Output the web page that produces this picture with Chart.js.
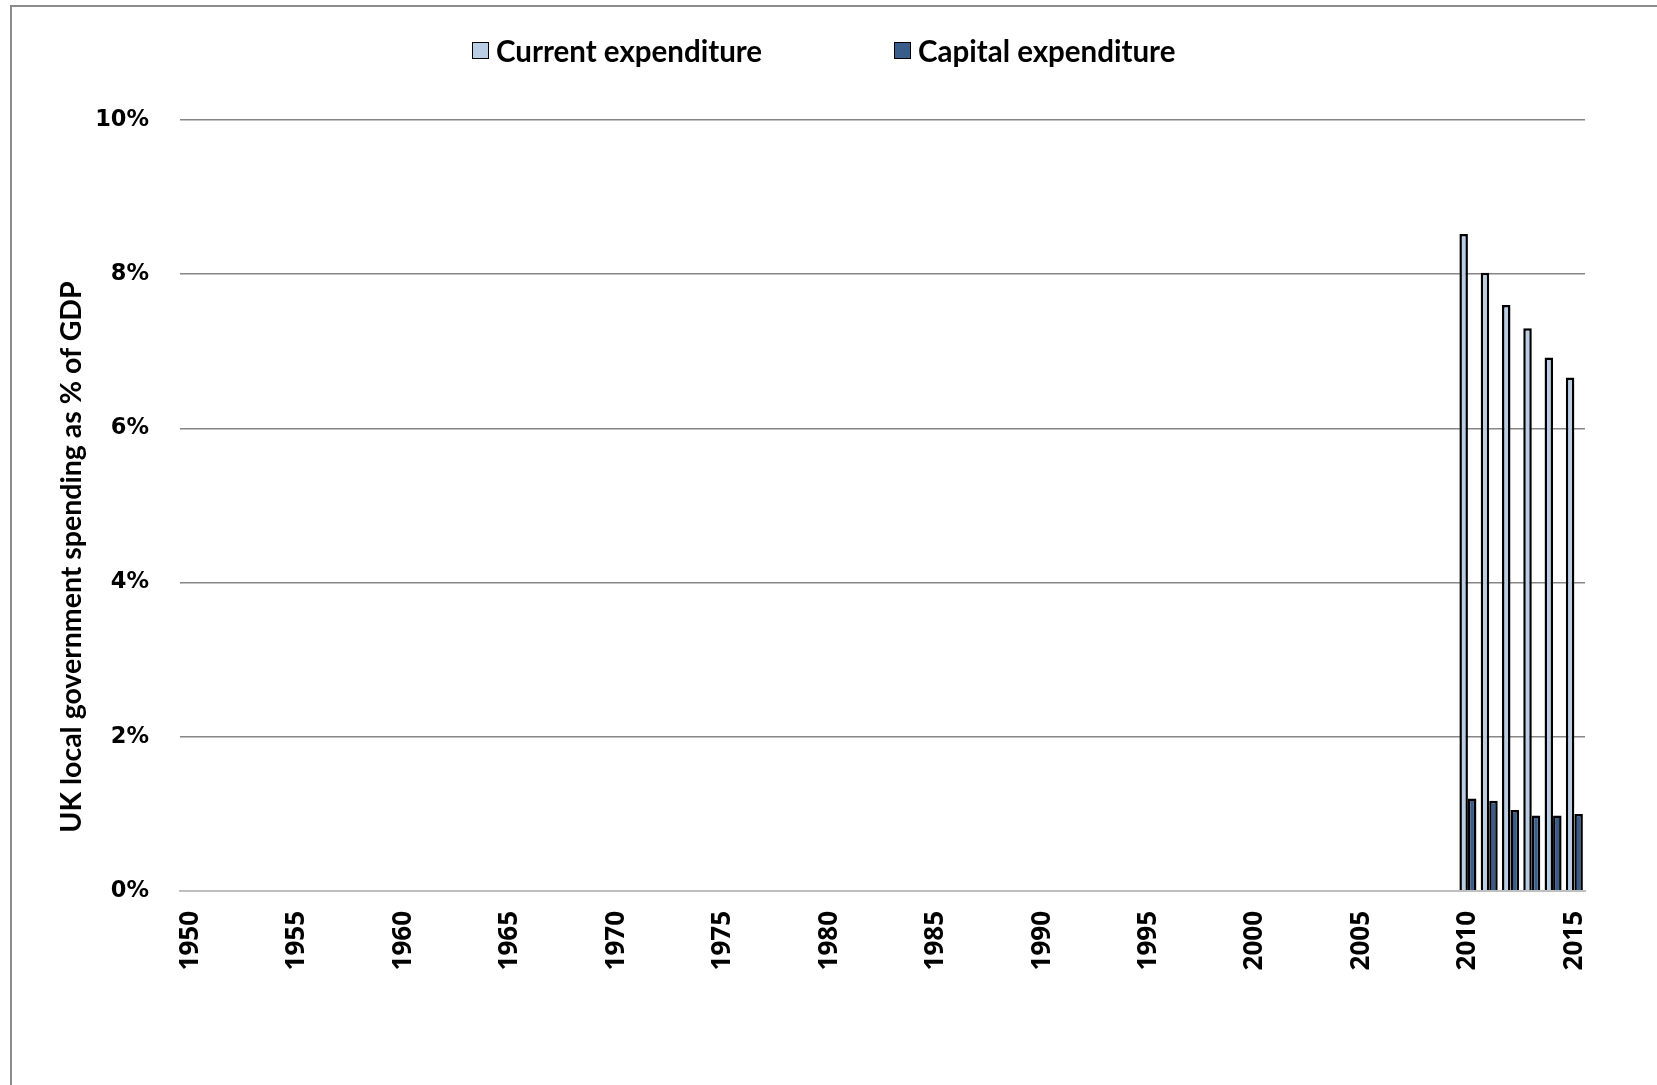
<!DOCTYPE html>
<html>
<head>
<meta charset="utf-8">
<script src="https://cdn.jsdelivr.net/npm/chart.js@4"></script>
<style>
  html, body { margin: 0; padding: 0; background: #fff; }
  #wrap { position: relative; width: 1657px; height: 1085px; overflow: hidden; }
  #frame { position: absolute; left: 10px; top: 5px; width: 1700px; height: 1200px;
           border-top: 2px solid #8c8c8c; border-left: 2px solid #8c8c8c; }
  #legend { position: absolute; top: 31px; left: 0; width: 1657px; height: 38px;
            font-family: 'Lato', sans-serif; font-weight: bold; font-size: 29.5px; color: #000; }
  .item { position: absolute; top: 0; display: flex; align-items: center; height: 38px; }
  .box { width: 15px; height: 15px; border: 1.5px solid #000; margin-right: 7px; }
  #ytitle { position: absolute; left: -230px; top: 540px; width: 600px; height: 34px; line-height: 34px;
            text-align: center; transform: rotate(-90deg); transform-origin: 300px 17px;
            font-family: 'Lato', sans-serif; font-weight: bold; font-size: 28.5px; color: #000; white-space: nowrap; }
  canvas { position: absolute; left: 0; top: 0; }
</style>
</head>
<body>
<div id="wrap">
  <div id="frame"></div>
  <canvas id="myChart" width="1657" height="1085"></canvas>
  <div id="legend">
    <div class="item" style="left:472px"><span class="box" style="background:#b9cde5"></span>Current expenditure</div>
    <div class="item" style="left:894px"><span class="box" style="background:#385d8a"></span>Capital expenditure</div>
  </div>
  <div id="ytitle">UK local government spending as % of GDP</div>
</div>
<script>
// categories (years on the x axis)
var years = [1950,1951,1952,1953,1954,1955,1956,1957,1958,1959,
  1960,1961,1962,1963,1964,1965,1966,1967,1968,1969,
  1970,1971,1972,1973,1974,1975,1976,1977,1978,1979,
  1980,1981,1982,1983,1984,1985,1986,1987,1988,1989,
  1990,1991,1992,1993,1994,1995,1996,1997,1998,1999,
  2000,2001,2002,2003,2004,2005,2006,2007,2008,2009,
  2010,2011,2012,2013,2014,2015];

// years that have data, and the values (% of GDP)
var dataYears = [2010, 2011, 2012, 2013, 2014, 2015];
var currentExp = [8.52, 8.02, 7.60, 7.30, 6.92, 6.66];
var capitalExp = [1.20, 1.17, 1.05, 0.98, 0.98, 1.00];

var yTicks = [0, 2, 4, 6, 8, 10];

// spread values over all categories, empty where no data
const fillSeries = (vals) => years.map(y => {
  var i = dataYears.indexOf(y)
  return i === -1 ? null : vals[i]
})

var canvas = document.getElementById('myChart');

var myChart = new Chart(canvas, {
  type: 'bar',
  data: {
    labels: years,
    datasets: [{
      label: 'Current expenditure',
      data: fillSeries(currentExp),
      backgroundColor: '#b9cde5',
      borderColor: '#000',
      borderWidth: 2.5
    }, {
      label: 'Capital expenditure',
      data: fillSeries(capitalExp),
      backgroundColor: '#385d8a',
      borderColor: '#000',
      borderWidth: 2.5
    }]
  },
  options: {
    responsive: false,
    animation: false,
    layout: { padding: { left: 10, top: 120, right: 72, bottom: 0 } },
    plugins: {
      legend: { display: false },
      tooltip: { enabled: false }
    },
    datasets: {
      bar: { categoryPercentage: 0.8, barPercentage: 1.0 }
    },
    scales: {
      x: {
        grid: { display: false, drawTicks: false },
        border: { display: true, color: '#bfbfbf', width: 2 },
        afterFit: s => { s.height = 194 },
        ticks: {
          autoSkip: false,
          maxRotation: 90,
          minRotation: 90,
          padding: 20,
          color: '#000',
          font: { family: "'Open Sans', sans-serif", weight: 'bold', size: 26 },
          callback: function(val, idx) {
            var y = years[idx]
            return y % 5 === 0 ? String(y) : ''
          }
        }
      },
      y: {
        min: 0,
        max: 10,
        afterFit: s => { s.width = 170 },
        afterBuildTicks: s => { s.ticks = yTicks.map(v => ({ value: v })) },
        border: { display: false },
        grid: {
          drawTicks: false,
          color: ctx => ctx.tick && ctx.tick.value === 0 ? '#bfbfbf' : '#868686',
          lineWidth: ctx => ctx.tick && ctx.tick.value === 0 ? 2 : 1.5
        },
        ticks: {
          padding: 31,
          color: '#000',
          font: { family: "'DejaVu Sans', sans-serif", weight: 'bold', size: 22.5 },
          callback: v => v + '%'
        }
      }
    }
  }
});
</script>
</body>
</html>
